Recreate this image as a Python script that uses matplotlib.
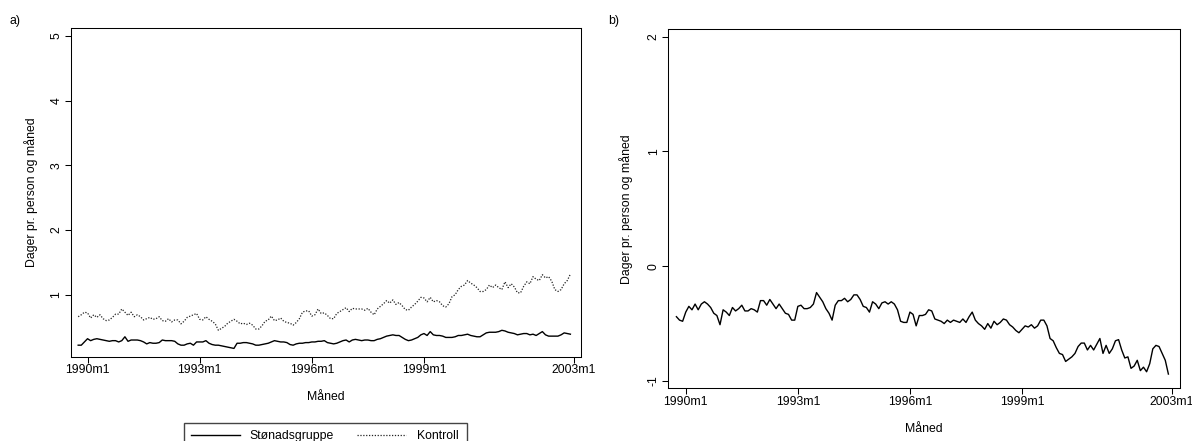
import matplotlib
matplotlib.use('Agg')
import matplotlib.pyplot as plt
import numpy as np
from matplotlib.patches import Rectangle

plt.rcParams['font.family'] = ['Liberation Sans', 'DejaVu Sans']

# ---- data (monthly, 1989m10 .. 2002m12) ----
start_month = "1989m10"
series_names = ["Stønadsgruppe", "Kontroll"]

stonad = [0.22,0.22,0.27,0.32,0.29,0.31,0.32,0.31,0.30,0.29,
          0.28,0.29,0.29,0.27,0.29,0.35,0.28,0.30,0.30,0.30,
          0.29,0.27,0.24,0.26,0.25,0.25,0.26,0.30,0.29,0.29,
          0.29,0.28,0.24,0.22,0.22,0.24,0.25,0.22,0.27,0.27,
          0.27,0.29,0.25,0.23,0.22,0.22,0.21,0.20,0.19,0.18,
          0.17,0.25,0.25,0.26,0.26,0.25,0.24,0.22,0.22,0.23,
          0.24,0.25,0.27,0.29,0.28,0.27,0.27,0.26,0.23,0.22,
          0.24,0.25,0.25,0.26,0.26,0.27,0.27,0.28,0.28,0.29,
          0.26,0.25,0.24,0.25,0.27,0.29,0.30,0.27,0.30,0.31,
          0.30,0.29,0.30,0.30,0.29,0.29,0.31,0.32,0.34,0.36,
          0.37,0.38,0.37,0.37,0.34,0.31,0.29,0.30,0.32,0.34,
          0.38,0.40,0.37,0.43,0.38,0.37,0.37,0.36,0.34,0.34,
          0.34,0.35,0.37,0.37,0.38,0.39,0.37,0.36,0.35,0.35,
          0.38,0.41,0.42,0.42,0.42,0.43,0.45,0.44,0.42,0.41,
          0.40,0.38,0.39,0.40,0.40,0.38,0.39,0.37,0.40,0.43,
          0.38,0.36,0.36,0.36,0.36,0.38,0.41,0.40,0.39]

kontroll = [0.66,0.69,0.73,0.72,0.64,0.69,0.65,0.69,0.63,0.60,
            0.61,0.65,0.70,0.70,0.78,0.73,0.68,0.73,0.66,0.69,
            0.66,0.61,0.63,0.65,0.62,0.63,0.66,0.60,0.59,0.63,
            0.58,0.61,0.61,0.55,0.59,0.65,0.67,0.69,0.71,0.62,
            0.61,0.66,0.62,0.59,0.55,0.45,0.48,0.51,0.56,0.59,
            0.62,0.59,0.55,0.56,0.54,0.56,0.53,0.47,0.47,0.52,
            0.59,0.61,0.67,0.60,0.61,0.64,0.59,0.57,0.56,0.53,
            0.57,0.63,0.73,0.75,0.75,0.67,0.69,0.78,0.71,0.72,
            0.68,0.63,0.63,0.71,0.74,0.77,0.80,0.74,0.79,0.78,
            0.78,0.78,0.76,0.79,0.73,0.69,0.78,0.82,0.86,0.91,
            0.87,0.92,0.85,0.88,0.83,0.77,0.76,0.81,0.85,0.90,
            0.96,0.95,0.89,0.96,0.89,0.91,0.89,0.83,0.81,0.86,
            0.97,1.00,1.08,1.13,1.15,1.22,1.18,1.15,1.11,1.05,
            1.05,1.08,1.15,1.11,1.15,1.11,1.08,1.20,1.11,1.17,
            1.12,1.03,1.03,1.13,1.20,1.17,1.28,1.24,1.22,1.31,
            1.26,1.28,1.21,1.08,1.05,1.08,1.17,1.22,1.32]

differanse = [-0.44,-0.47,-0.48,-0.40,-0.35,-0.38,-0.33,-0.38,-0.33,-0.31,
              -0.33,-0.36,-0.41,-0.43,-0.51,-0.38,-0.40,-0.43,-0.36,-0.39,
              -0.37,-0.34,-0.39,-0.39,-0.37,-0.38,-0.40,-0.30,-0.30,-0.34,
              -0.29,-0.33,-0.37,-0.33,-0.37,-0.41,-0.42,-0.47,-0.47,-0.35,
              -0.34,-0.37,-0.37,-0.36,-0.33,-0.23,-0.27,-0.31,-0.37,-0.41,
              -0.47,-0.34,-0.30,-0.30,-0.28,-0.31,-0.29,-0.25,-0.25,-0.29,
              -0.35,-0.36,-0.40,-0.31,-0.33,-0.37,-0.32,-0.31,-0.33,-0.31,
              -0.33,-0.38,-0.48,-0.49,-0.49,-0.40,-0.42,-0.52,-0.43,-0.43,
              -0.42,-0.38,-0.39,-0.46,-0.47,-0.48,-0.50,-0.47,-0.49,-0.47,
              -0.48,-0.49,-0.46,-0.49,-0.44,-0.40,-0.47,-0.50,-0.52,-0.55,
              -0.50,-0.54,-0.48,-0.51,-0.49,-0.46,-0.47,-0.51,-0.53,-0.56,
              -0.58,-0.55,-0.52,-0.53,-0.51,-0.54,-0.52,-0.47,-0.47,-0.52,
              -0.63,-0.65,-0.71,-0.76,-0.77,-0.83,-0.81,-0.79,-0.76,-0.70,
              -0.67,-0.67,-0.73,-0.69,-0.73,-0.68,-0.63,-0.76,-0.69,-0.76,
              -0.72,-0.65,-0.64,-0.73,-0.80,-0.79,-0.89,-0.87,-0.82,-0.91,
              -0.88,-0.92,-0.85,-0.72,-0.69,-0.70,-0.76,-0.82,-0.94]

xtick_labels = ["1990m1", "1993m1", "1996m1", "1999m1", "2003m1"]
yticks_a = [1, 2, 3, 4, 5]
yticks_b = [-1, 0, 1, 2]
ylabel_text = "Dager pr. person og måned"
xlabel_text = "Måned"


def month_index(lbl):
    y, m = lbl.split("m")
    return (int(y) - 1990) * 12 + int(m) - 1


x = np.arange(len(stonad)) + month_index(start_month)
xticks = [month_index(l) for l in xtick_labels]

# ---- layout ----
W, H = 1192, 441
FS = 8.8
fig = plt.figure(figsize=(W / 100, H / 100), dpi=100)


def fx(px):
    return px / W


def fy(py):
    return 1 - py / H


axA = fig.add_axes([fx(70.7), fy(356.5), fx(581 - 70.7), (356.5 - 28.3) / H])
axB = fig.add_axes([fx(668), fy(388.3), fx(1179.6 - 668), (388.3 - 29.3) / H])

lA1, = axA.plot(x, stonad, color="black", lw=1.0)
lA2, = axA.plot(x, kontroll, color="#222222", lw=0.9, ls=(0, (1, 1.3)))
axB.plot(x, differanse, color="black", lw=1.0)

axA.set_xlim(-5.4, 158.4)
axA.set_ylim(0.045, 5.12)
axB.set_xlim(-5.7, 158.6)
axB.set_ylim(-1.064, 2.064)

for ax, yt in ((axA, yticks_a), (axB, yticks_b)):
    ax.set_xticks(xticks)
    ax.set_xticklabels(xtick_labels)
    ax.set_yticks(yt)
    ax.set_yticklabels([str(v) for v in yt])
    ax.tick_params(axis="both", direction="out", length=4.2, width=0.75,
                   labelsize=FS, color="black")
    ax.tick_params(axis="x", pad=1.4)
    ax.tick_params(axis="y", pad=1.8, labelrotation=90)
    for lab in ax.get_yticklabels():
        lab.set_va("center")
    for s in ax.spines.values():
        s.set_linewidth(0.75)
        s.set_color("black")

# axis titles
fig.text(fx(30.8), fy(192.4), ylabel_text, rotation=90, ha="center", va="center", fontsize=FS)
fig.text(fx(626.4), fy(208.8), ylabel_text, rotation=90, ha="center", va="center", fontsize=FS)
fig.text(fx(325.9), fy(396.7), xlabel_text, ha="center", va="center", fontsize=FS)
fig.text(fx(924), fy(429), xlabel_text, ha="center", va="center", fontsize=FS)
fig.text(fx(15), fy(21), "a)", ha="center", va="center", fontsize=FS)
fig.text(fx(614), fy(21), "b)", ha="center", va="center", fontsize=FS)

# legend (frame drawn separately, extends beyond the bottom like the original)
fig.patches.append(Rectangle((fx(183.5), fy(462)), fx(467 - 183.5), (462 - 422.5) / H,
                             transform=fig.transFigure, fill=False,
                             edgecolor="#444444", lw=1.0))
fig.legend([lA1, lA2], series_names, loc="center",
           bbox_to_anchor=(fx(324.5), fy(436)), ncol=2, frameon=False,
           handlelength=4.0, handletextpad=0.85, columnspacing=1.9,
           fontsize=FS, borderpad=0.2)

fig.savefig("out.png", dpi=100, facecolor="white")
